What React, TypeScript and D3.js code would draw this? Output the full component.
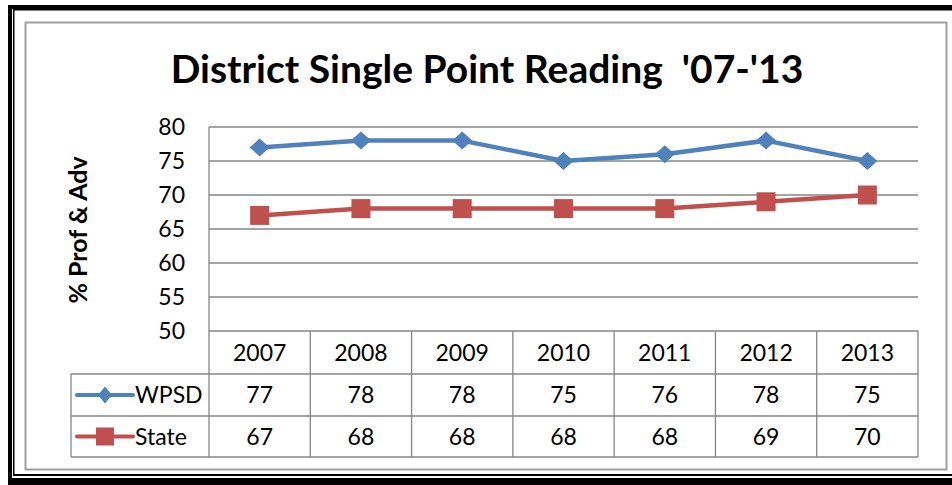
import * as d3 from 'd3';

const years = ['2007', '2008', '2009', '2010', '2011', '2012', '2013'];
const wpsd = [77, 78, 78, 75, 76, 78, 75];
const state = [67, 68, 68, 68, 68, 69, 70];
const yTicks = [50, 55, 60, 65, 70, 75, 80];

const BLUE = '#4F81BD';
const RED = '#C0504D';
const GRID = '#868686';
const FONT = 'Lato, "Open Sans", sans-serif';

const W = 952;
const H = 485;
const plot = { left: 209, right: 918, top: 127, bottom: 331 };
const rowH = [43, 42, 41];

const diamond = (cx, cy, rx, ry) =>
  `M${cx},${cy - ry}L${cx + rx},${cy}L${cx},${cy + ry}L${cx - rx},${cy}Z`;

const App = () => {
  const x = d3.scaleBand().domain(years).range([plot.left, plot.right]);
  const y = d3.scaleLinear().domain([50, 80]).range([plot.bottom, plot.top]);
  const cx = (yr) => x(yr) + x.bandwidth() / 2;

  const line = d3.line().x(d => cx(d[0])).y(d => y(d[1]));
  const wpsdPts = years.map((yr, i) => [yr, wpsd[i]]);
  const statePts = years.map((yr, i) => [yr, state[i]]);

  const row1 = plot.bottom + rowH[0];
  const row2 = row1 + rowH[1];
  const row3 = row2 + rowH[2];
  const tableLeft = 71;

  const series = [
    { name: 'WPSD', values: wpsd, top: row1, bottom: row2, color: BLUE, shape: 'diamond' },
    { name: 'State', values: state, top: row2, bottom: row3, color: RED, shape: 'square' },
  ];

  return (
    <svg width={W} height={H} style={{ position: 'absolute', left: 0, top: 0, background: '#fff' }}
      fontFamily={FONT}>
      {/* outer double frame */}
      <rect x={8} y={5} width={W - 8} height={4} fill="#000" />
      <rect x={8} y={5} width={4} height={H - 5} fill="#000" />
      <rect x={13} y={9} width={W - 13} height={1.5} fill="#000" />
      <rect x={13} y={9} width={1.5} height={467} fill="#000" />
      <rect x={13} y={474} width={W - 13} height={2} fill="#000" />
      <rect x={8} y={478} width={W - 8} height={H - 478} fill="#000" />

      {/* chart area border */}
      <rect x={25.5} y={22.5} width={921} height={447} fill="#fff" stroke="#a0a0a0" strokeWidth={2} />

      <text x={487} y={83} textAnchor="middle" fontSize={39} fontWeight="bold" fill="#000"
        style={{ whiteSpace: 'pre' }}>
        {"District Single Point Reading  '07-'13"}
      </text>

      <text transform="translate(87,230) rotate(-90)" textAnchor="middle" fontSize={25}
        fontWeight="bold" fill="#000">% Prof &amp; Adv</text>

      {/* gridlines */}
      {yTicks.map(t => (
        <line key={t} x1={plot.left} x2={plot.right} y1={y(t)} y2={y(t)} stroke={GRID} strokeWidth={1.3} />
      ))}
      <line x1={plot.left} x2={plot.left} y1={plot.top} y2={row3} stroke={GRID} strokeWidth={1.3} />
      {yTicks.map(t => (
        <text key={t} x={185} y={y(t)} dy="0.36em" textAnchor="end" fontSize={23} fill="#000">{t}</text>
      ))}

      {/* data table */}
      {years.map((yr, i) => (
        <g key={yr}>
          <line x1={x(yr) + x.bandwidth()} x2={x(yr) + x.bandwidth()} y1={plot.bottom} y2={row3}
            stroke={GRID} strokeWidth={1.3} />
          <text x={cx(yr)} y={plot.bottom + rowH[0] / 2} dy="0.36em" textAnchor="middle" fontSize={23}>{yr}</text>
          {series.map(s => (
            <text key={s.name} x={cx(yr)} y={(s.top + s.bottom) / 2} dy="0.36em" textAnchor="middle"
              fontSize={23}>{s.values[i]}</text>
          ))}
        </g>
      ))}
      <line x1={tableLeft} x2={plot.right} y1={row1} y2={row1} stroke={GRID} strokeWidth={1.3} />
      <line x1={tableLeft} x2={plot.right} y1={row2} y2={row2} stroke={GRID} strokeWidth={1.3} />
      <line x1={tableLeft} x2={plot.right} y1={row3} y2={row3} stroke={GRID} strokeWidth={1.3} />
      <line x1={tableLeft} x2={tableLeft} y1={row1} y2={row3} stroke={GRID} strokeWidth={1.3} />

      {series.map(s => {
        const my = (s.top + s.bottom) / 2;
        return (
          <g key={s.name}>
            <line x1={77} x2={133} y1={my} y2={my} stroke={s.color} strokeWidth={4} strokeLinecap="round" />
            {s.shape === 'diamond'
              ? <path d={diamond(105, my, 7, 8.5)} fill={s.color} />
              : <rect x={96} y={my - 9} width={18} height={18} fill={s.color} />}
            <text x={135} y={my} dy="0.36em" fontSize={23}>{s.name}</text>
          </g>
        );
      })}

      {/* series lines */}
      <path d={line(wpsdPts)} fill="none" stroke={BLUE} strokeWidth={4.5} strokeLinejoin="round" />
      <path d={line(statePts)} fill="none" stroke={RED} strokeWidth={4.5} strokeLinejoin="round" />
      {wpsdPts.map(p => (
        <path key={p[0]} d={diamond(cx(p[0]), y(p[1]), 10, 9)} fill={BLUE} />
      ))}
      {statePts.map(p => (
        <rect key={p[0]} x={cx(p[0]) - 9.5} y={y(p[1]) - 9.5} width={19} height={19} fill={RED} />
      ))}
    </svg>
  );
};

export default App;
